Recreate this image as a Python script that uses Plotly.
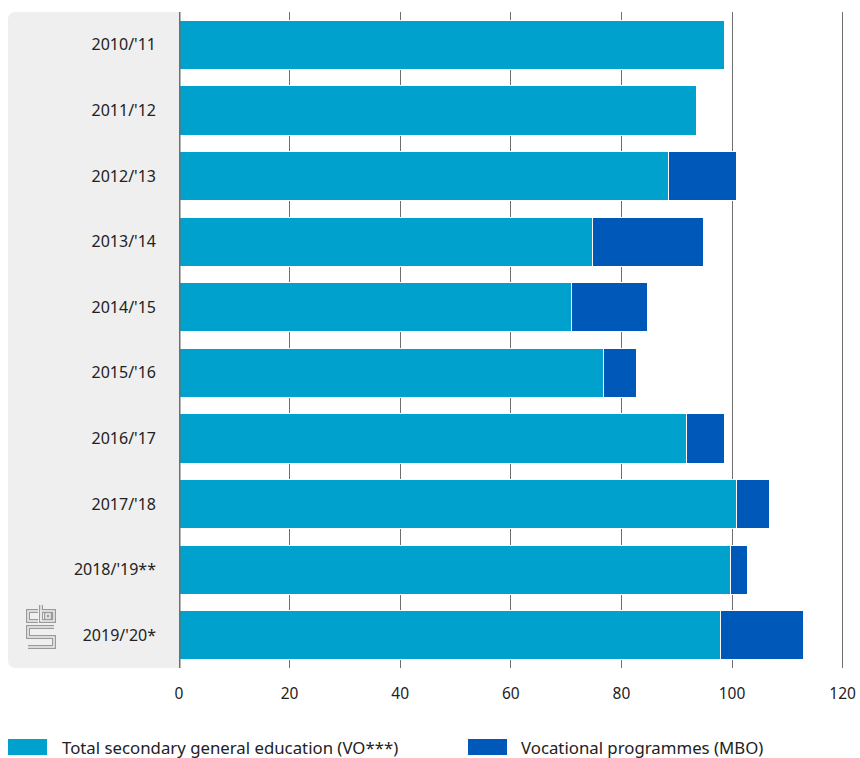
import plotly.graph_objects as go

years = ["2010/'11", "2011/'12", "2012/'13", "2013/'14", "2014/'15",
         "2015/'16", "2016/'17", "2017/'18", "2018/'19**", "2019/'20*"]
vo = [98.7, 93.6, 88.6, 74.8, 70.9, 76.7, 91.7, 100.9, 99.8, 97.9]
mbo = [0, 0, 12.3, 20.0, 13.9, 6.1, 6.9, 5.8, 3.0, 15.1]
series_names = ["Total secondary general education (VO***)", "Vocational programmes (MBO)"]
x_ticks = [0, 20, 40, 60, 80, 100, 120]

C_VO = "#00A1CD"
C_MBO = "#0058B8"
FONT = "Noto Sans"

W, H = 860, 758
L, R, T, B = 179, 16, 12, 90
PW, PH = W - L - R, H - T - B


def px(x):
    return (x - L) / PW


def py(y):
    return (H - B - y) / PH


fig = go.Figure()
fig.add_trace(go.Bar(y=years, x=vo, orientation="h", name=series_names[0],
                     marker=dict(color=C_VO, line=dict(color="white", width=1))))
fig.add_trace(go.Bar(y=years, x=mbo, orientation="h", name=series_names[1],
                     marker=dict(color=C_MBO, line=dict(color="white", width=1))))

shapes = []
# grey rounded background panel behind labels
x0 = px(8)
rx, ry = 8 / PW, 8 / PH
path = (f"M 0,0 L {x0+rx},0 Q {x0},0 {x0},{ry} L {x0},{1-ry} "
        f"Q {x0},1 {x0+rx},1 L 0,1 Z")
shapes.append(dict(type="path", path=path, xref="paper", yref="paper",
                   fillcolor="#EFEFEF", line=dict(width=0), layer="below"))
# axis line at 0
shapes.append(dict(type="line", xref="x", yref="paper", x0=0, x1=0, y0=0, y1=1,
                   line=dict(color="#6E6E6E", width=3), layer="above"))


# logo (cbs)
def poly(pts, closed=False):
    s = "M " + " L ".join(f"{px(a)},{py(b)}" for a, b in pts)
    return s + (" Z" if closed else "")


logo_paths = [
    poly([(41, 605), (41, 621)]),
    poly([(41, 611), (54, 611), (54, 621), (41, 621)], closed=True),
    poly([(46, 614), (50, 614), (50, 618), (46, 618)], closed=True),
    poly([(38, 611), (28, 611), (28, 621), (38, 621)]),
    poly([(54, 627), (28, 627), (28, 637), (54, 637), (54, 647), (28, 647)]),
]
for p in logo_paths:
    shapes.append(dict(type="path", path=p, xref="paper", yref="paper",
                       line=dict(color="#9A9A9A", width=4), layer="above"))
for p in logo_paths:
    shapes.append(dict(type="path", path=p, xref="paper", yref="paper",
                       line=dict(color="#EFEFEF", width=1.5), layer="above"))

# legend swatches
shapes.append(dict(type="rect", xref="paper", yref="paper",
                   x0=px(8), x1=px(47), y0=py(739), y1=py(755),
                   fillcolor=C_VO, line=dict(width=0)))
shapes.append(dict(type="rect", xref="paper", yref="paper",
                   x0=px(468), x1=px(507), y0=py(739), y1=py(755),
                   fillcolor=C_MBO, line=dict(width=0)))

annotations = [
    dict(text=series_names[0], xref="paper", yref="paper", x=px(60), y=py(747),
         xanchor="left", yanchor="middle", showarrow=False,
         font=dict(family=FONT, size=16.8, color="#222")),
    dict(text=series_names[1], xref="paper", yref="paper", x=px(519), y=py(747),
         xanchor="left", yanchor="middle", showarrow=False,
         font=dict(family=FONT, size=16.8, color="#222")),
]

fig.update_layout(
    width=W, height=H,
    margin=dict(l=L, r=R, t=T, b=B, pad=0, autoexpand=False),
    barmode="stack", bargap=0.25,
    paper_bgcolor="white", plot_bgcolor="rgba(0,0,0,0)",
    showlegend=False,
    font=dict(family=FONT, size=16, color="#222"),
    shapes=shapes, annotations=annotations,
    xaxis=dict(range=[0, 120.25], tickvals=x_ticks, showgrid=True,
               gridcolor="#6E6E6E", gridwidth=1, zeroline=False, automargin=False,
               showline=False, ticks="", ticklabelstandoff=14,
               tickfont=dict(family=FONT, size=15.5, color="#222"), fixedrange=True),
    yaxis=dict(autorange="reversed", showgrid=False, zeroline=False, showline=False,
               ticks="", ticklabelstandoff=22, automargin=False,
               tickfont=dict(family=FONT, size=16, color="#222"), fixedrange=True),
)

fig.write_html("out.html", config={"displayModeBar": False},
               post_script="document.body.style.margin='0';document.body.style.overflow='hidden';")
